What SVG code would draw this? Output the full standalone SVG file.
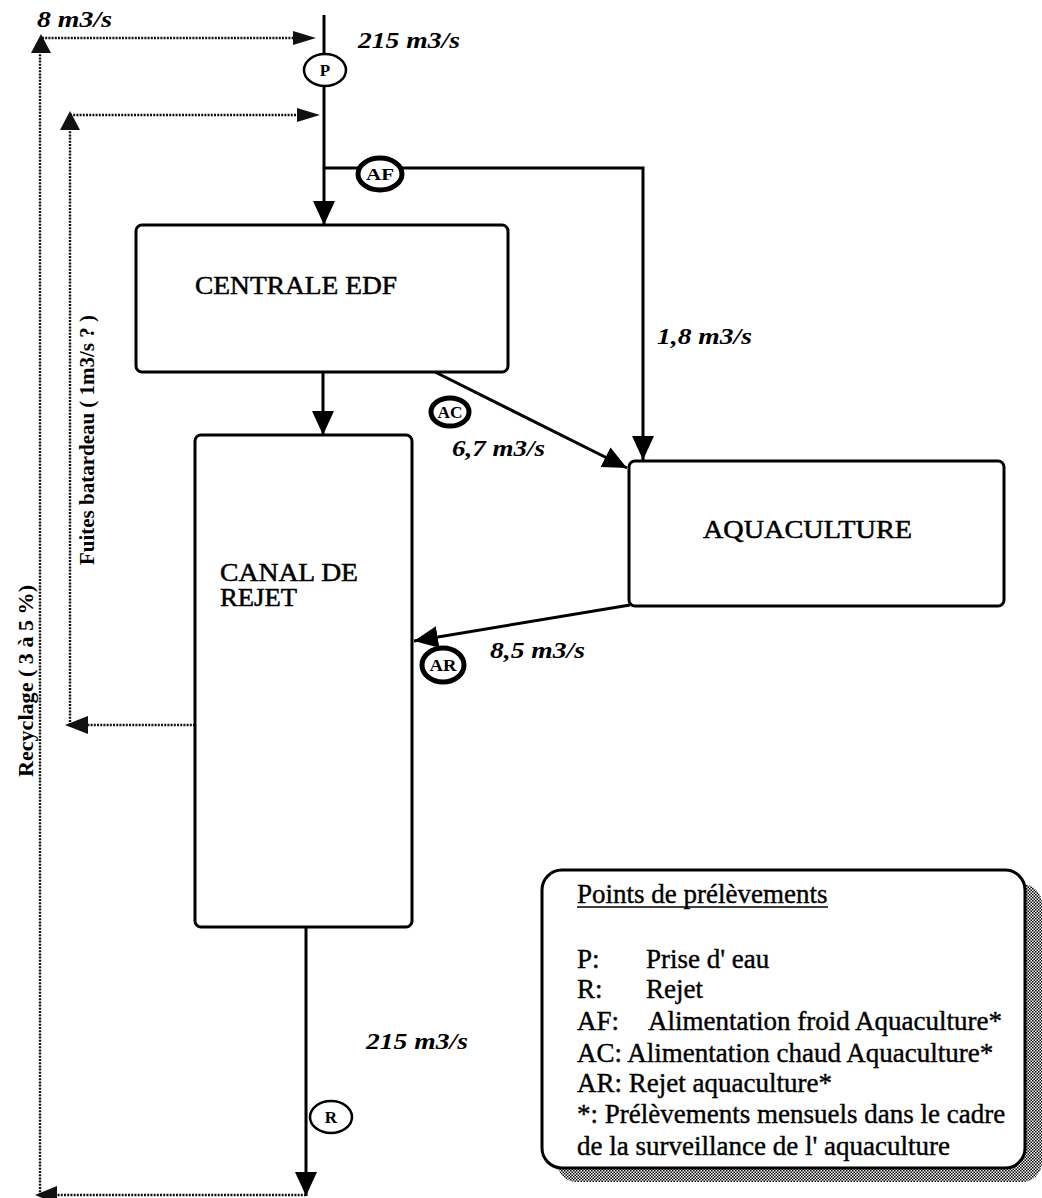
<svg xmlns="http://www.w3.org/2000/svg" width="1042" height="1198" viewBox="0 0 1042 1198">
<style>
.box{fill:#fff;stroke:#000;stroke-width:3}
.line{fill:none;stroke:#000;stroke-width:3}
.dot{fill:none;stroke:#111;stroke-width:2.4;stroke-dasharray:2 1.2}
.pt{fill:#fff;stroke:#000}
.ptl{font-family:"Liberation Serif",serif;font-weight:bold;font-size:17px;text-anchor:middle}
.lbl{font-family:"Liberation Serif",serif;font-size:25px;stroke:#000;stroke-width:0.5}
.flow{font-family:"Liberation Serif",serif;font-weight:bold;font-style:italic;font-size:24px}
.rot{font-family:"Liberation Serif",serif;font-weight:bold;font-size:21px}
.leg{font-family:"Liberation Serif",serif;font-size:27px;stroke:#000;stroke-width:0.4}
</style>
<defs>
<marker id="arr" markerUnits="userSpaceOnUse" markerWidth="24" markerHeight="22" refX="24" refY="11" orient="auto"><path d="M0,0 L24,11 L0,22 Z" fill="#000"/></marker>
<pattern id="dots" width="3" height="3" patternUnits="userSpaceOnUse"><rect width="3" height="3" fill="#fff"/><rect width="1.5" height="1.5" fill="#000"/><rect x="1.5" y="1.5" width="1.5" height="1.5" fill="#000"/></pattern>
</defs>

<g id="connectors">
<line class="line" x1="324" y1="15" x2="324" y2="225" marker-end="url(#arr)"/>
<polyline class="line" points="324,168 643,168 643,460" marker-end="url(#arr)"/>
<line class="line" x1="323" y1="372" x2="323" y2="435" marker-end="url(#arr)"/>
<line class="line" x1="435" y1="372" x2="627" y2="468" marker-end="url(#arr)"/>
<line class="line" x1="630" y1="605" x2="414" y2="641" marker-end="url(#arr)"/>
<line class="line" x1="306" y1="927" x2="306" y2="1196" marker-end="url(#arr)"/>
<polyline class="dot" points="306,1195 40,1195 40,50"/>
<line class="dot" x1="42" y1="38" x2="295" y2="38"/>
<polygon points="316,38 293,31 293,45" fill="#111"/>
<polygon points="41,34 31,53 51,53" fill="#111"/>
<polygon points="35,1195 57,1186 57,1204" fill="#111"/>
<polyline class="dot" points="195,725 70,725 70,128"/>
<line class="dot" x1="70" y1="115" x2="298" y2="115"/>
<polygon points="320,115 297,108 297,122" fill="#111"/>
<polygon points="70,111 60,130 80,130" fill="#111"/>
<polygon points="65,725 88,716 88,734" fill="#111"/>
</g>

<g id="node-centrale">
<rect class="box" x="136" y="225" width="372" height="147" rx="6"/>
<text class="lbl" x="195" y="294" textLength="202" lengthAdjust="spacingAndGlyphs">CENTRALE EDF</text>
</g>
<g id="node-canal">
<rect class="box" x="195" y="435" width="217" height="492" rx="6"/>
<text class="lbl" x="220" y="581" font-size="23" textLength="138" lengthAdjust="spacingAndGlyphs">CANAL DE</text>
<text class="lbl" x="220" y="606" font-size="23" textLength="77" lengthAdjust="spacingAndGlyphs">REJET</text>
</g>
<g id="node-aquaculture">
<rect class="box" x="629" y="461" width="375" height="145" rx="6"/>
<text class="lbl" x="703" y="538" textLength="209" lengthAdjust="spacingAndGlyphs">AQUACULTURE</text>
</g>

<g id="point-P">
<ellipse class="pt" cx="325" cy="70" rx="21" ry="16" stroke-width="2.5"/>
<text class="ptl" x="325" y="76">P</text>
</g>
<g id="point-AF">
<ellipse class="pt" cx="380" cy="174" rx="22" ry="16" stroke-width="5"/>
<text class="ptl" x="380" y="180" textLength="28" lengthAdjust="spacingAndGlyphs">AF</text>
</g>
<g id="point-AC">
<ellipse class="pt" cx="450" cy="412" rx="19" ry="14" stroke-width="5"/>
<text class="ptl" x="450" y="418" textLength="25" lengthAdjust="spacingAndGlyphs">AC</text>
</g>
<g id="point-AR">
<ellipse class="pt" cx="443" cy="665" rx="21" ry="17" stroke-width="5"/>
<text class="ptl" x="443" y="671" textLength="27" lengthAdjust="spacingAndGlyphs">AR</text>
</g>
<g id="point-R">
<ellipse class="pt" cx="331" cy="1117" rx="21" ry="16" stroke-width="2.5"/>
<text class="ptl" x="331" y="1123">R</text>
</g>

<g id="flow-labels">
<text class="flow" x="37" y="27" textLength="75" lengthAdjust="spacingAndGlyphs">8 m3/s</text>
<text class="flow" x="358" y="48" textLength="102" lengthAdjust="spacingAndGlyphs">215 m3/s</text>
<text class="flow" x="657" y="344" textLength="95" lengthAdjust="spacingAndGlyphs">1,8 m3/s</text>
<text class="flow" x="452" y="456" textLength="93" lengthAdjust="spacingAndGlyphs">6,7 m3/s</text>
<text class="flow" x="490" y="658" textLength="95" lengthAdjust="spacingAndGlyphs">8,5 m3/s</text>
<text class="flow" x="366" y="1049" textLength="102" lengthAdjust="spacingAndGlyphs">215 m3/s</text>
<text class="rot" transform="translate(94,565) rotate(-90)" textLength="250" lengthAdjust="spacingAndGlyphs">Fuites batardeau ( 1m3/s ? )</text>
<text class="rot" transform="translate(33,777) rotate(-90)" textLength="192" lengthAdjust="spacingAndGlyphs">Recyclage ( 3 à 5 %)</text>
</g>

<g id="legend">
<rect x="557" y="884" width="485" height="298" rx="20" fill="url(#dots)"/>
<rect class="box" x="542" y="870" width="483" height="298" rx="20"/>
<text class="leg" x="577" y="903">Points de prélèvements</text>
<line x1="577" y1="907" x2="828" y2="907" stroke="#000" stroke-width="1.5"/>
<text class="leg" x="577" y="968">P:</text>
<text class="leg" x="646" y="968">Prise d' eau</text>
<text class="leg" x="577" y="998">R:</text>
<text class="leg" x="646" y="998">Rejet</text>
<text class="leg" x="577" y="1030">AF:</text>
<text class="leg" x="648" y="1030">Alimentation froid Aquaculture*</text>
<text class="leg" x="577" y="1062">AC: Alimentation chaud Aquaculture*</text>
<text class="leg" x="577" y="1092">AR: Rejet aquaculture*</text>
<text class="leg" x="577" y="1123">*: Prélèvements mensuels dans le cadre</text>
<text class="leg" x="577" y="1155">de la surveillance de l' aquaculture</text>
</g>
</svg>
